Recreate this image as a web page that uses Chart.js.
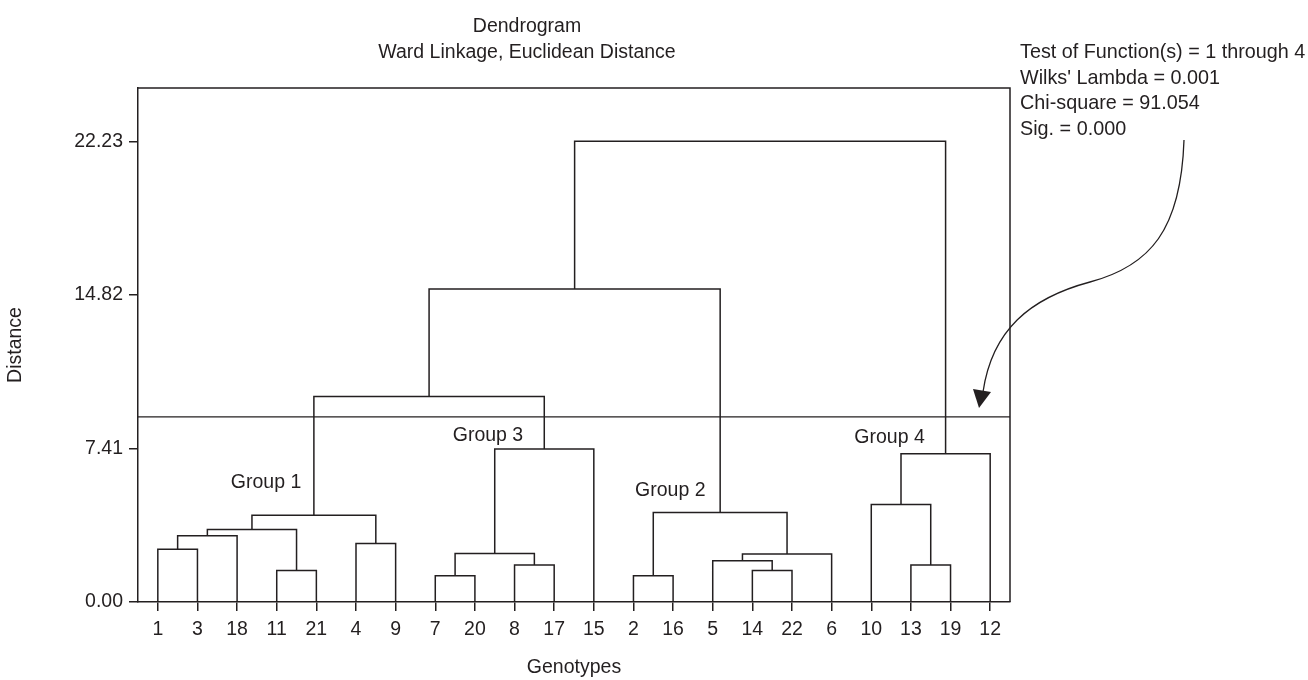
<!DOCTYPE html>
<html>
<head>
<meta charset="utf-8">
<title>Dendrogram</title>
<script src="https://cdn.jsdelivr.net/npm/chart.js@4.4.1/dist/chart.umd.min.js"></script>
<style>
  html, body { margin: 0; padding: 0; background: #fff; }
</style>
</head>
<body>
<canvas id="myChart" width="1308" height="680"></canvas>
<script>
// genotypes in the order they sit along the bottom axis
const leafLabels = ['1','3','18','11','21','4','9','7','20','8','17','15','2','16','5','14','22','6','10','13','19','12'];

// linkage table: ids < 22 are leaves (index into leafLabels), 22+k is the cluster built by merge k
const mergeLeft   = [7, 12, 3, 15, 9, 19, 14, 28, 22, 0, 5, 31, 33, 34, 23, 18, 37, 30, 35, 40, 41];
const mergeRight  = [8, 13, 4, 16, 10, 20, 25, 17, 26, 1, 6, 2, 24, 32, 29, 27, 21, 11, 39, 36, 38];
const mergeHeight = [1.27, 1.27, 1.52, 1.52, 1.78, 1.79, 1.99, 2.32, 2.34, 2.55, 2.82, 3.20, 3.50, 4.18, 4.32, 4.71, 7.15, 7.38, 9.91, 15.10, 22.23];

const distanceTicks = [0, 7.41, 14.82, 22.23];
const cutHeight = 8.93;

const groupNames = ['Group 1', 'Group 3', 'Group 2', 'Group 4'];
const groupAt = [[2.73, 5.76], [8.33, 8.04], [12.93, 5.38], [18.46, 7.94]]; // (leaf index, distance)

const testLines = ["Test of Function(s) = 1 through 4", "Wilks' Lambda = 0.001", "Chi-square = 91.054", "Sig. = 0.000"];

const INK = '#231f20';
const FONT = "'Liberation Sans', Arial, sans-serif";
const FS = 19.5;

// x of every node: leaves at their index, clusters half way between their two children
const nLeaf = leafLabels.length;
const nodeX = leafLabels.map((_, i) => i);
const nodeH = leafLabels.map(() => 0);
mergeHeight.forEach((h, k) => {
  nodeX[nLeaf + k] = (nodeX[mergeLeft[k]] + nodeX[mergeRight[k]]) / 2;
  nodeH[nLeaf + k] = h;
});

const lineStyle = { borderColor: INK, borderWidth: 1.5, pointRadius: 0, showLine: true, tension: 0, fill: false };

const datasets = mergeHeight.map((h, k) => {
  const a = mergeLeft[k], b = mergeRight[k];
  return Object.assign({
    data: [
      { x: nodeX[a], y: nodeH[a] },
      { x: nodeX[a], y: h },
      { x: nodeX[b], y: h },
      { x: nodeX[b], y: nodeH[b] }
    ]
  }, lineStyle);
});
// cut line that splits off the four groups
datasets.push(Object.assign({ data: [{ x: -0.5, y: cutHeight }, { x: nLeaf - 0.5, y: cutHeight }] }, lineStyle, { borderWidth: 1.2 }));

const decor = {
  id: 'decor',
  afterDraw(chart) {
    const ctx = chart.ctx;
    const area = chart.chartArea;
    const xs = chart.scales.x, ys = chart.scales.y;
    ctx.save();
    ctx.strokeStyle = INK;
    ctx.fillStyle = INK;
    ctx.lineWidth = 1.5;

    // close the frame (top + right)
    ctx.beginPath();
    ctx.moveTo(area.left, area.top);
    ctx.lineTo(area.right, area.top);
    ctx.lineTo(area.right, area.bottom);
    ctx.stroke();

    ctx.font = FS + 'px ' + FONT;

    // title
    ctx.textAlign = 'center';
    ctx.textBaseline = 'alphabetic';
    ctx.fillText('Dendrogram', 527, 32);
    ctx.fillText('Ward Linkage, Euclidean Distance', 527, 58);

    // group names
    ctx.textBaseline = 'middle';
    groupNames.forEach((g, i) => {
      ctx.fillText(g, xs.getPixelForValue(groupAt[i][0]), ys.getPixelForValue(groupAt[i][1]));
    });

    // discriminant test box
    ctx.font = '19.8px ' + FONT;
    ctx.textAlign = 'left';
    ctx.textBaseline = 'alphabetic';
    testLines.forEach((t, i) => ctx.fillText(t, 1020, 58 + i * 25.5));

    // curved arrow pointing at the cut line
    ctx.lineWidth = 1.3;
    ctx.beginPath();
    ctx.moveTo(1184, 140);
    ctx.bezierCurveTo(1181, 230, 1150, 266, 1090, 282);
    ctx.bezierCurveTo(1030, 298, 992, 330, 983, 392);
    ctx.stroke();
    ctx.beginPath();
    ctx.moveTo(979, 408);
    ctx.lineTo(973, 389);
    ctx.lineTo(991, 392);
    ctx.closePath();
    ctx.fill();

    ctx.restore();
  }
};

new Chart(document.getElementById('myChart'), {
  type: 'scatter',
  data: { datasets: datasets },
  options: {
    responsive: false,
    animation: false,
    devicePixelRatio: 1,
    layout: { padding: { left: 0, right: 298, top: 88, bottom: 0 } },
    plugins: {
      legend: { display: false },
      tooltip: { enabled: false },
      title: { display: false }
    },
    scales: {
      x: {
        type: 'linear',
        min: -0.5,
        max: nLeaf - 0.5,
        afterBuildTicks: (scale) => { scale.ticks = leafLabels.map((_, i) => ({ value: i })); },
        afterFit: (scale) => { scale.height = 78; },
        ticks: {
          autoSkip: false,
          maxRotation: 0,
          padding: 7,
          color: INK,
          font: { family: FONT, size: FS },
          callback: (v) => leafLabels[v]
        },
        grid: { drawOnChartArea: false, tickLength: 9, color: INK, lineWidth: 1.5 },
        border: { display: true, color: INK, width: 1.5 },
        title: { display: true, text: 'Genotypes', color: INK, font: { family: FONT, size: FS }, padding: { top: 0, bottom: 1 } }
      },
      y: {
        type: 'linear',
        min: 0,
        max: 24.8,
        afterBuildTicks: (scale) => { scale.ticks = distanceTicks.map(v => ({ value: v })); },
        afterFit: (scale) => { scale.width = 138; },
        ticks: {
          padding: 6,
          color: INK,
          font: { family: FONT, size: FS },
          callback: (v) => v.toFixed(2)
        },
        grid: { drawOnChartArea: false, tickLength: 9, color: INK, lineWidth: 1.5 },
        border: { display: true, color: INK, width: 1.5 },
        title: { display: true, text: 'Distance', color: INK, font: { family: FONT, size: FS }, padding: { top: 4, bottom: 0 } }
      }
    }
  },
  plugins: [decor]
});
</script>
</body>
</html>
